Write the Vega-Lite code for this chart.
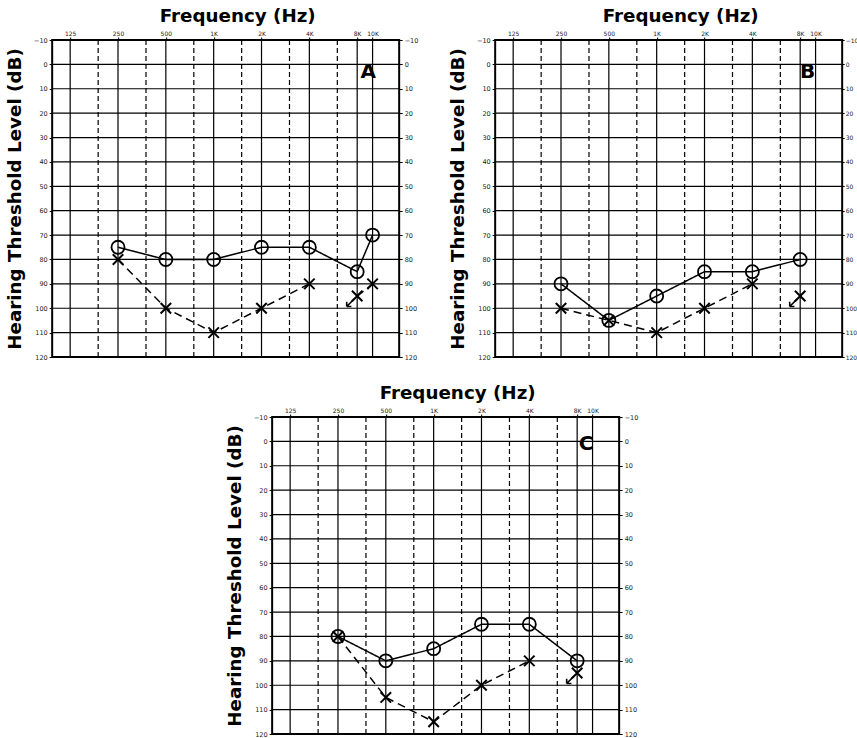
{
  "$schema": "https://vega.github.io/schema/vega-lite/v6.json",
  "padding": {"left": 4, "top": 5, "right": 0, "bottom": 0},
  "background": "white",
  "datasets": {
    "grid": [
      {"freq": 125, "kind": "oct"}, {"freq": 250, "kind": "oct"}, {"freq": 500, "kind": "oct"},
      {"freq": 1000, "kind": "oct"}, {"freq": 2000, "kind": "oct"}, {"freq": 4000, "kind": "oct"},
      {"freq": 8000, "kind": "oct"}, {"freq": 10000, "kind": "oct"},
      {"freq": 187.5, "kind": "mid"}, {"freq": 375, "kind": "mid"}, {"freq": 750, "kind": "mid"},
      {"freq": 1500, "kind": "mid"}, {"freq": 3000, "kind": "mid"}, {"freq": 6000, "kind": "mid"}
    ],
    "hgrid": [
      {"db": -10}, {"db": 0}, {"db": 10}, {"db": 20}, {"db": 30}, {"db": 40}, {"db": 50},
      {"db": 60}, {"db": 70}, {"db": 80}, {"db": 90}, {"db": 100}, {"db": 110}, {"db": 120}
    ],
    "pts": [
      {"panel": "A", "ear": "O", "freq": 250, "db": 75, "seg": "AO", "nr": false},
      {"panel": "A", "ear": "O", "freq": 500, "db": 80, "seg": "AO", "nr": false},
      {"panel": "A", "ear": "O", "freq": 1000, "db": 80, "seg": "AO", "nr": false},
      {"panel": "A", "ear": "O", "freq": 2000, "db": 75, "seg": "AO", "nr": false},
      {"panel": "A", "ear": "O", "freq": 4000, "db": 75, "seg": "AO", "nr": false},
      {"panel": "A", "ear": "O", "freq": 8000, "db": 85, "seg": "AO", "nr": false},
      {"panel": "A", "ear": "O", "freq": 10000, "db": 70, "seg": "AO", "nr": false},
      {"panel": "A", "ear": "X", "freq": 250, "db": 80, "seg": "AX1", "nr": false},
      {"panel": "A", "ear": "X", "freq": 500, "db": 100, "seg": "AX1", "nr": false},
      {"panel": "A", "ear": "X", "freq": 1000, "db": 110, "seg": "AX1", "nr": false},
      {"panel": "A", "ear": "X", "freq": 2000, "db": 100, "seg": "AX1", "nr": false},
      {"panel": "A", "ear": "X", "freq": 4000, "db": 90, "seg": "AX1", "nr": false},
      {"panel": "A", "ear": "X", "freq": 8000, "db": 95, "seg": "AX2", "nr": true},
      {"panel": "A", "ear": "X", "freq": 10000, "db": 90, "seg": "AX2", "nr": false},
      {"panel": "B", "ear": "O", "freq": 250, "db": 90, "seg": "BO", "nr": false},
      {"panel": "B", "ear": "O", "freq": 500, "db": 105, "seg": "BO", "nr": false},
      {"panel": "B", "ear": "O", "freq": 1000, "db": 95, "seg": "BO", "nr": false},
      {"panel": "B", "ear": "O", "freq": 2000, "db": 85, "seg": "BO", "nr": false},
      {"panel": "B", "ear": "O", "freq": 4000, "db": 85, "seg": "BO", "nr": false},
      {"panel": "B", "ear": "O", "freq": 8000, "db": 80, "seg": "BO", "nr": false},
      {"panel": "B", "ear": "X", "freq": 250, "db": 100, "seg": "BX1", "nr": false},
      {"panel": "B", "ear": "X", "freq": 500, "db": 105, "seg": "BX1", "nr": false},
      {"panel": "B", "ear": "X", "freq": 1000, "db": 110, "seg": "BX1", "nr": false},
      {"panel": "B", "ear": "X", "freq": 2000, "db": 100, "seg": "BX1", "nr": false},
      {"panel": "B", "ear": "X", "freq": 4000, "db": 90, "seg": "BX1", "nr": false},
      {"panel": "B", "ear": "X", "freq": 8000, "db": 95, "seg": "BX2", "nr": true},
      {"panel": "C", "ear": "O", "freq": 250, "db": 80, "seg": "CO", "nr": false},
      {"panel": "C", "ear": "O", "freq": 500, "db": 90, "seg": "CO", "nr": false},
      {"panel": "C", "ear": "O", "freq": 1000, "db": 85, "seg": "CO", "nr": false},
      {"panel": "C", "ear": "O", "freq": 2000, "db": 75, "seg": "CO", "nr": false},
      {"panel": "C", "ear": "O", "freq": 4000, "db": 75, "seg": "CO", "nr": false},
      {"panel": "C", "ear": "O", "freq": 8000, "db": 90, "seg": "CO", "nr": false},
      {"panel": "C", "ear": "X", "freq": 250, "db": 80, "seg": "CX1", "nr": false},
      {"panel": "C", "ear": "X", "freq": 500, "db": 105, "seg": "CX1", "nr": false},
      {"panel": "C", "ear": "X", "freq": 1000, "db": 115, "seg": "CX1", "nr": false},
      {"panel": "C", "ear": "X", "freq": 2000, "db": 100, "seg": "CX1", "nr": false},
      {"panel": "C", "ear": "X", "freq": 4000, "db": 90, "seg": "CX1", "nr": false},
      {"panel": "C", "ear": "X", "freq": 8000, "db": 95, "seg": "CX2", "nr": true}
    ],
    "tags": [
      {"panel": "A", "tag": "A", "freq": 9400, "db": 3},
      {"panel": "B", "tag": "B", "freq": 8900, "db": 3},
      {"panel": "C", "tag": "C", "freq": 9100, "db": 1}
    ]
  },
  "config": {
    "view": {"stroke": "#000", "strokeWidth": 2},
    "axis": {"domain": false, "labelFont": "DejaVu Sans", "titleFont": "DejaVu Sans", "titleFontWeight": "bold", "titleColor": "#000", "labelColor": "#222", "tickColor": "#000"}
  },
  "spacing": 20,
  "center": true,
  "vconcat": [
    {
      "spacing": 28,
      "hconcat": [
        {
          "width": 347, "height": 317,
          "resolve": {"axis": {"x": "independent", "y": "independent"}, "scale": {"strokeDash": "independent"}},
          "layer": [
            {"data": {"name": "hgrid"}, "mark": {"type": "rule", "color": "#000", "strokeWidth": 1.2},
             "encoding": {
               "y": {"field": "db", "type": "quantitative", "scale": {"domain": [-10, 120], "reverse": true, "nice": false, "zero": false},
                     "axis": {"orient": "left", "values": [-10, 0, 10, 20, 30, 40, 50, 60, 70, 80, 90, 100, 110, 120], "grid": false, "tickSize": 3, "labelFontSize": 6.5, "labelPadding": 2, "title": "Hearing Threshold Level (dB)", "titleFontSize": 18.3, "titleX": -36.5, "titleBaseline": "middle", "titleAngle": -90}}
             }},
            {"data": {"name": "grid"}, "mark": {"type": "rule", "color": "#000", "strokeWidth": 1.2},
             "encoding": {
               "x": {"field": "freq", "type": "quantitative", "scale": {"type": "log", "domain": [96.3, 14700], "nice": false},
                     "axis": {"orient": "top", "values": [125, 250, 500, 1000, 2000, 4000, 8000, 10000], "labelExpr": "datum.value >= 1000 ? (datum.value/1000) + 'K' : datum.value", "labelFontSize": 6, "tickSize": 3, "labelPadding": 1, "grid": false, "labelFlush": false, "labelOverlap": false, "title": "Frequency (Hz)", "titleFontSize": 18.3, "titleX": 185, "titleY": -19, "titleBaseline": "alphabetic", "titleAlign": "center"}},
               "strokeDash": {"field": "kind", "type": "nominal", "scale": {"domain": ["oct", "mid"], "range": [[1, 0], [5, 3]]}, "legend": null}
             }},
            {"data": {"name": "pts"}, "transform": [{"filter": "datum.panel === 'A'"}],
             "mark": {"type": "line", "color": "#000", "strokeWidth": 1.5},
             "encoding": {
               "x": {"field": "freq", "type": "quantitative", "scale": {"type": "log", "domain": [96.3, 14700], "nice": false}, "axis": null},
               "y": {"field": "db", "type": "quantitative", "scale": {"domain": [-10, 120], "reverse": true, "nice": false, "zero": false}, "axis": null},
               "detail": {"field": "seg", "type": "nominal"},
               "strokeDash": {"field": "ear", "type": "nominal", "scale": {"domain": ["O", "X"], "range": [[1, 0], [8, 5]]}, "legend": null}
             }},
            {"data": {"name": "pts"}, "transform": [{"filter": "datum.panel === 'A' && datum.ear === 'O'"}],
             "mark": {"type": "point", "shape": "circle", "filled": false, "size": 170, "strokeWidth": 1.8, "color": "#000", "opacity": 1},
             "encoding": {
               "x": {"field": "freq", "type": "quantitative", "scale": {"type": "log", "domain": [96.3, 14700], "nice": false}, "axis": null},
               "y": {"field": "db", "type": "quantitative", "scale": {"domain": [-10, 120], "reverse": true, "nice": false, "zero": false},
                     "axis": {"orient": "right", "values": [-10, 0, 10, 20, 30, 40, 50, 60, 70, 80, 90, 100, 110, 120], "grid": false, "tickSize": 3, "labelFontSize": 6.5, "labelPadding": 2, "title": null}}
             }},
            {"data": {"name": "pts"}, "transform": [{"filter": "datum.panel === 'A' && datum.ear === 'X'"}],
             "mark": {"type": "point", "shape": "M-1,-1L1,1M-1,1L1,-1", "filled": false, "size": 110, "strokeWidth": 2, "color": "#000", "opacity": 1},
             "encoding": {
               "x": {"field": "freq", "type": "quantitative", "scale": {"type": "log", "domain": [96.3, 14700], "nice": false}, "axis": null},
               "y": {"field": "db", "type": "quantitative", "scale": {"domain": [-10, 120], "reverse": true, "nice": false, "zero": false}, "axis": null}
             }},
            {"data": {"name": "pts"}, "transform": [{"filter": "datum.panel === 'A' && datum.nr"}],
             "mark": {"type": "point", "shape": "M-0.6,0.6L-2,2M-2,2L-2,1.1M-2,2L-1.1,2", "filled": false, "size": 110, "strokeWidth": 1.6, "color": "#000", "opacity": 1},
             "encoding": {
               "x": {"field": "freq", "type": "quantitative", "scale": {"type": "log", "domain": [96.3, 14700], "nice": false}, "axis": null},
               "y": {"field": "db", "type": "quantitative", "scale": {"domain": [-10, 120], "reverse": true, "nice": false, "zero": false}, "axis": null}
             }},
            {"data": {"name": "tags"}, "transform": [{"filter": "datum.panel === 'A'"}],
             "mark": {"type": "text", "font": "DejaVu Sans", "fontWeight": "bold", "fontSize": 20, "color": "#000", "align": "center", "baseline": "middle"},
             "encoding": {
               "x": {"field": "freq", "type": "quantitative", "scale": {"type": "log", "domain": [96.3, 14700], "nice": false}, "axis": null},
               "y": {"field": "db", "type": "quantitative", "scale": {"domain": [-10, 120], "reverse": true, "nice": false, "zero": false}, "axis": null},
               "text": {"field": "tag"}
             }}
          ]
        },
        {
          "width": 347, "height": 317,
          "resolve": {"axis": {"x": "independent", "y": "independent"}, "scale": {"strokeDash": "independent"}},
          "layer": [
            {"data": {"name": "hgrid"}, "mark": {"type": "rule", "color": "#000", "strokeWidth": 1.2},
             "encoding": {
               "y": {"field": "db", "type": "quantitative", "scale": {"domain": [-10, 120], "reverse": true, "nice": false, "zero": false},
                     "axis": {"orient": "left", "values": [-10, 0, 10, 20, 30, 40, 50, 60, 70, 80, 90, 100, 110, 120], "grid": false, "tickSize": 3, "labelFontSize": 6.5, "labelPadding": 2, "title": "Hearing Threshold Level (dB)", "titleFontSize": 18.3, "titleX": -36.5, "titleBaseline": "middle", "titleAngle": -90}}
             }},
            {"data": {"name": "grid"}, "mark": {"type": "rule", "color": "#000", "strokeWidth": 1.2},
             "encoding": {
               "x": {"field": "freq", "type": "quantitative", "scale": {"type": "log", "domain": [96.3, 14700], "nice": false},
                     "axis": {"orient": "top", "values": [125, 250, 500, 1000, 2000, 4000, 8000, 10000], "labelExpr": "datum.value >= 1000 ? (datum.value/1000) + 'K' : datum.value", "labelFontSize": 6, "tickSize": 3, "labelPadding": 1, "grid": false, "labelFlush": false, "labelOverlap": false, "title": "Frequency (Hz)", "titleFontSize": 18.3, "titleX": 185, "titleY": -19, "titleBaseline": "alphabetic", "titleAlign": "center"}},
               "strokeDash": {"field": "kind", "type": "nominal", "scale": {"domain": ["oct", "mid"], "range": [[1, 0], [5, 3]]}, "legend": null}
             }},
            {"data": {"name": "pts"}, "transform": [{"filter": "datum.panel === 'B'"}],
             "mark": {"type": "line", "color": "#000", "strokeWidth": 1.5},
             "encoding": {
               "x": {"field": "freq", "type": "quantitative", "scale": {"type": "log", "domain": [96.3, 14700], "nice": false}, "axis": null},
               "y": {"field": "db", "type": "quantitative", "scale": {"domain": [-10, 120], "reverse": true, "nice": false, "zero": false}, "axis": null},
               "detail": {"field": "seg", "type": "nominal"},
               "strokeDash": {"field": "ear", "type": "nominal", "scale": {"domain": ["O", "X"], "range": [[1, 0], [8, 5]]}, "legend": null}
             }},
            {"data": {"name": "pts"}, "transform": [{"filter": "datum.panel === 'B' && datum.ear === 'O'"}],
             "mark": {"type": "point", "shape": "circle", "filled": false, "size": 170, "strokeWidth": 1.8, "color": "#000", "opacity": 1},
             "encoding": {
               "x": {"field": "freq", "type": "quantitative", "scale": {"type": "log", "domain": [96.3, 14700], "nice": false}, "axis": null},
               "y": {"field": "db", "type": "quantitative", "scale": {"domain": [-10, 120], "reverse": true, "nice": false, "zero": false},
                     "axis": {"orient": "right", "values": [-10, 0, 10, 20, 30, 40, 50, 60, 70, 80, 90, 100, 110, 120], "grid": false, "tickSize": 2, "labelFontSize": 6, "labelPadding": 1, "title": null}}
             }},
            {"data": {"name": "pts"}, "transform": [{"filter": "datum.panel === 'B' && datum.ear === 'X'"}],
             "mark": {"type": "point", "shape": "M-1,-1L1,1M-1,1L1,-1", "filled": false, "size": 110, "strokeWidth": 2, "color": "#000", "opacity": 1},
             "encoding": {
               "x": {"field": "freq", "type": "quantitative", "scale": {"type": "log", "domain": [96.3, 14700], "nice": false}, "axis": null},
               "y": {"field": "db", "type": "quantitative", "scale": {"domain": [-10, 120], "reverse": true, "nice": false, "zero": false}, "axis": null}
             }},
            {"data": {"name": "pts"}, "transform": [{"filter": "datum.panel === 'B' && datum.nr"}],
             "mark": {"type": "point", "shape": "M-0.6,0.6L-2,2M-2,2L-2,1.1M-2,2L-1.1,2", "filled": false, "size": 110, "strokeWidth": 1.6, "color": "#000", "opacity": 1},
             "encoding": {
               "x": {"field": "freq", "type": "quantitative", "scale": {"type": "log", "domain": [96.3, 14700], "nice": false}, "axis": null},
               "y": {"field": "db", "type": "quantitative", "scale": {"domain": [-10, 120], "reverse": true, "nice": false, "zero": false}, "axis": null}
             }},
            {"data": {"name": "tags"}, "transform": [{"filter": "datum.panel === 'B'"}],
             "mark": {"type": "text", "font": "DejaVu Sans", "fontWeight": "bold", "fontSize": 20, "color": "#000", "align": "center", "baseline": "middle"},
             "encoding": {
               "x": {"field": "freq", "type": "quantitative", "scale": {"type": "log", "domain": [96.3, 14700], "nice": false}, "axis": null},
               "y": {"field": "db", "type": "quantitative", "scale": {"domain": [-10, 120], "reverse": true, "nice": false, "zero": false}, "axis": null},
               "text": {"field": "tag"}
             }}
          ]
        }
      ]
    },
    {
      "width": 347, "height": 317,
      "resolve": {"axis": {"x": "independent", "y": "independent"}, "scale": {"strokeDash": "independent"}},
      "layer": [
        {"data": {"name": "hgrid"}, "mark": {"type": "rule", "color": "#000", "strokeWidth": 1.2},
         "encoding": {
           "y": {"field": "db", "type": "quantitative", "scale": {"domain": [-10, 120], "reverse": true, "nice": false, "zero": false},
                 "axis": {"orient": "left", "values": [-10, 0, 10, 20, 30, 40, 50, 60, 70, 80, 90, 100, 110, 120], "grid": false, "tickSize": 3, "labelFontSize": 6.5, "labelPadding": 2, "title": "Hearing Threshold Level (dB)", "titleFontSize": 18.3, "titleX": -36.5, "titleBaseline": "middle", "titleAngle": -90}}
         }},
        {"data": {"name": "grid"}, "mark": {"type": "rule", "color": "#000", "strokeWidth": 1.2},
         "encoding": {
           "x": {"field": "freq", "type": "quantitative", "scale": {"type": "log", "domain": [96.3, 14700], "nice": false},
                 "axis": {"orient": "top", "values": [125, 250, 500, 1000, 2000, 4000, 8000, 10000], "labelExpr": "datum.value >= 1000 ? (datum.value/1000) + 'K' : datum.value", "labelFontSize": 6, "tickSize": 3, "labelPadding": 1, "grid": false, "labelFlush": false, "labelOverlap": false, "title": "Frequency (Hz)", "titleFontSize": 18.3, "titleX": 185, "titleY": -19, "titleBaseline": "alphabetic", "titleAlign": "center"}},
           "strokeDash": {"field": "kind", "type": "nominal", "scale": {"domain": ["oct", "mid"], "range": [[1, 0], [5, 3]]}, "legend": null}
         }},
        {"data": {"name": "pts"}, "transform": [{"filter": "datum.panel === 'C'"}],
         "mark": {"type": "line", "color": "#000", "strokeWidth": 1.5},
         "encoding": {
           "x": {"field": "freq", "type": "quantitative", "scale": {"type": "log", "domain": [96.3, 14700], "nice": false}, "axis": null},
           "y": {"field": "db", "type": "quantitative", "scale": {"domain": [-10, 120], "reverse": true, "nice": false, "zero": false}, "axis": null},
           "detail": {"field": "seg", "type": "nominal"},
           "strokeDash": {"field": "ear", "type": "nominal", "scale": {"domain": ["O", "X"], "range": [[1, 0], [8, 5]]}, "legend": null}
         }},
        {"data": {"name": "pts"}, "transform": [{"filter": "datum.panel === 'C' && datum.ear === 'O'"}],
         "mark": {"type": "point", "shape": "circle", "filled": false, "size": 170, "strokeWidth": 1.8, "color": "#000", "opacity": 1},
         "encoding": {
           "x": {"field": "freq", "type": "quantitative", "scale": {"type": "log", "domain": [96.3, 14700], "nice": false}, "axis": null},
           "y": {"field": "db", "type": "quantitative", "scale": {"domain": [-10, 120], "reverse": true, "nice": false, "zero": false},
                 "axis": {"orient": "right", "values": [-10, 0, 10, 20, 30, 40, 50, 60, 70, 80, 90, 100, 110, 120], "grid": false, "tickSize": 3, "labelFontSize": 6.5, "labelPadding": 2, "title": null}}
         }},
        {"data": {"name": "pts"}, "transform": [{"filter": "datum.panel === 'C' && datum.ear === 'X'"}],
         "mark": {"type": "point", "shape": "M-1,-1L1,1M-1,1L1,-1", "filled": false, "size": 110, "strokeWidth": 2, "color": "#000", "opacity": 1},
         "encoding": {
           "x": {"field": "freq", "type": "quantitative", "scale": {"type": "log", "domain": [96.3, 14700], "nice": false}, "axis": null},
           "y": {"field": "db", "type": "quantitative", "scale": {"domain": [-10, 120], "reverse": true, "nice": false, "zero": false}, "axis": null}
         }},
        {"data": {"name": "pts"}, "transform": [{"filter": "datum.panel === 'C' && datum.nr"}],
         "mark": {"type": "point", "shape": "M-0.6,0.6L-2,2M-2,2L-2,1.1M-2,2L-1.1,2", "filled": false, "size": 110, "strokeWidth": 1.6, "color": "#000", "opacity": 1},
         "encoding": {
           "x": {"field": "freq", "type": "quantitative", "scale": {"type": "log", "domain": [96.3, 14700], "nice": false}, "axis": null},
           "y": {"field": "db", "type": "quantitative", "scale": {"domain": [-10, 120], "reverse": true, "nice": false, "zero": false}, "axis": null}
         }},
        {"data": {"name": "tags"}, "transform": [{"filter": "datum.panel === 'C'"}],
         "mark": {"type": "text", "font": "DejaVu Sans", "fontWeight": "bold", "fontSize": 20, "color": "#000", "align": "center", "baseline": "middle"},
         "encoding": {
           "x": {"field": "freq", "type": "quantitative", "scale": {"type": "log", "domain": [96.3, 14700], "nice": false}, "axis": null},
           "y": {"field": "db", "type": "quantitative", "scale": {"domain": [-10, 120], "reverse": true, "nice": false, "zero": false}, "axis": null},
           "text": {"field": "tag"}
         }}
      ]
    }
  ]
}
